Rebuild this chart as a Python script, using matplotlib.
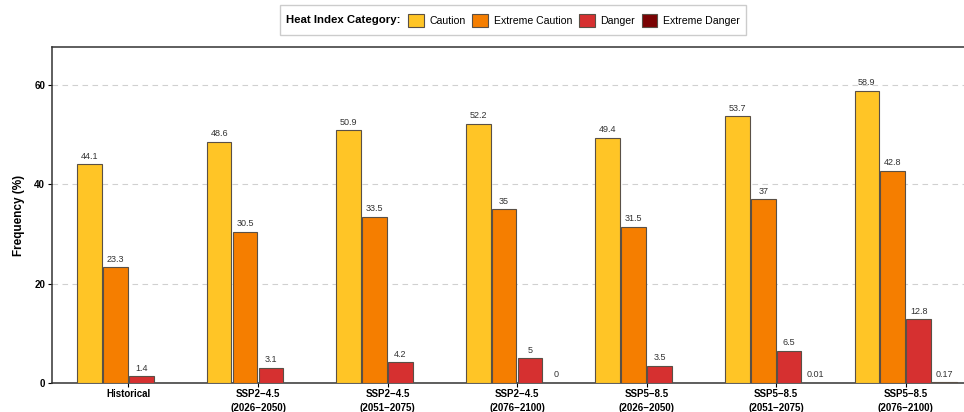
import numpy as np
import matplotlib
matplotlib.use("Agg")
import matplotlib.pyplot as plt
from matplotlib.patches import Patch, Rectangle

plt.rcParams['font.family'] = ['Liberation Sans', 'DejaVu Sans']

periods = ["Historical",
           "SSP2\u22124.5\n(2026\u22122050)", "SSP2\u22124.5\n(2051\u22122075)", "SSP2\u22124.5\n(2076\u22122100)",
           "SSP5\u22128.5\n(2026\u22122050)", "SSP5\u22128.5\n(2051\u22122075)", "SSP5\u22128.5\n(2076\u22122100)"]
categories = ["Caution", "Extreme Caution", "Danger", "Extreme Danger"]
caution = [44.1, 48.6, 50.9, 52.2, 49.4, 53.7, 58.9]
extreme_caution = [23.3, 30.5, 33.5, 35, 31.5, 37, 42.8]
danger = [1.4, 3.1, 4.2, 5, 3.5, 6.5, 12.8]
extreme_danger = [np.nan, np.nan, np.nan, 0, np.nan, 0.01, 0.17]
colors = ["#FFC526", "#F57E00", "#D63030", "#7A0303"]

series = [caution, extreme_caution, danger, extreme_danger]
edge = "#5a5046"

fig = plt.figure(figsize=(9.64, 4.12), dpi=100)
ax = fig.add_axes([0.054, 0.0705, 0.946, 0.8155])

x = np.arange(len(periods))
step = 0.2
for i, (vals, col) in enumerate(zip(series, colors)):
    pos = x + (i - 1.5) * step
    v = np.array(vals, dtype=float)
    ax.bar(pos, np.nan_to_num(v), width=0.19, color=col, edgecolor=edge,
           linewidth=0.8, zorder=3)
    for p, val in zip(pos, v):
        if np.isnan(val):
            continue
        ax.annotate(f"{val:g}", (p, val), xytext=(0, 2.5), textcoords="offset points",
                    ha="center", va="bottom", fontsize=6.5, color="#333333")

ax.set_xlim(-0.59, 6.45)
ax.set_ylim(0, 67.7)
ax.set_yticks([0, 20, 40, 60])
ax.set_xticks(x)
ax.set_xticklabels(periods, fontsize=7, fontweight="bold", linespacing=1.45)
ax.tick_params(axis="y", labelsize=7, length=3, width=0.8, pad=2)
ax.tick_params(axis="x", length=3, width=0.8, pad=1.5)
for lbl in ax.get_yticklabels():
    lbl.set_fontweight("bold")
ax.set_ylabel("Frequency (%)", fontsize=8.5, fontweight="bold", labelpad=7)
ax.yaxis.grid(True, linestyle=(0, (5, 4)), color="#d0d0d0", linewidth=0.8, zorder=0)
ax.set_axisbelow(True)
for s in ["left", "top", "bottom"]:
    ax.spines[s].set_color("#333333")
    ax.spines[s].set_linewidth(1.1)
ax.spines["right"].set_visible(False)

# legend with inline title
handles = [Patch(facecolor=c, edgecolor=edge, linewidth=0.8) for c in colors]
fig.text(0.297, 0.951, "Heat Index Category:", fontsize=8.2, fontweight="bold",
         ha="left", va="center")
fig.legend(handles, categories, ncol=4, frameon=False, fontsize=7.6,
           loc="center left", bbox_to_anchor=(0.418, 0.951),
           handlelength=1.5, handleheight=1.5, handletextpad=0.5, columnspacing=0.65,
           borderpad=0)
fig.patches.append(Rectangle((0.290, 0.915), 0.484, 0.073, transform=fig.transFigure,
                             facecolor="white", edgecolor="#cccccc", linewidth=1.0, zorder=-1))

fig.savefig("out.png", dpi=100)
